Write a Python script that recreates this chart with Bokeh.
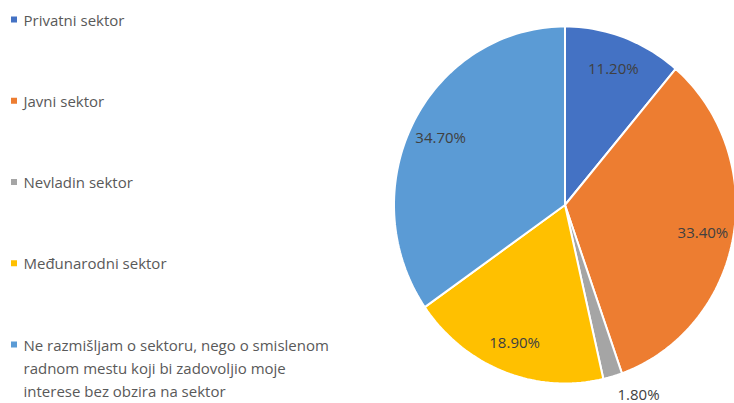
import math
import textwrap
from bokeh.plotting import figure
from bokeh.models import Range1d, ColumnDataSource
from bokeh.core.properties import value
from bokeh.embed import file_html
from bokeh.resources import INLINE

# ---- data ----
categories = [
    "Privatni sektor",
    "Javni sektor",
    "Nevladin sektor",
    "Međunarodni sektor",
    "Ne razmišljam o sektoru, nego o smislenom radnom mestu koji bi zadovoljio moje interese bez obzira na sektor",
]
shares = [11.2, 33.4, 1.8, 18.9, 34.7]
colors = ["#4472C4", "#ED7D31", "#A5A5A5", "#FFC000", "#5B9BD5"]

# ---- layout ----
W, H = 734, 403
FONT = "Open Sans"
FS = "15px"

p = figure(width=W, height=H, output_backend="svg", toolbar_location=None,
           x_range=Range1d(0, W), y_range=Range1d(H, 0),
           x_axis_type=None, y_axis_type=None, min_border=0,
           outline_line_color=None, background_fill_color="white",
           border_fill_color="white")

# pie geometry (screen-like data coords, y downward)
cx, cy = 564.5, 204.5
rx, ry = 171.0, 178.5

total = sum(shares)
xs, ys = [], []
lab_x, lab_y, lab_t, lab_align = [], [], [], []
acc = 0.0
for s in shares:
    a0 = acc / total * 2 * math.pi
    acc += s
    a1 = acc / total * 2 * math.pi
    n = max(4, int(240 * s / total))
    px = [cx]
    py = [cy]
    for k in range(n + 1):
        t = a0 + (a1 - a0) * k / n
        px.append(cx + rx * math.sin(t))
        py.append(cy - ry * math.cos(t))
    xs.append(px)
    ys.append(py)
    m = (a0 + a1) / 2
    txt = f"{s:.2f}%"
    if s / total < 0.05:
        f = 1.1
        lab_align.append("left" if math.sin(m) > 0 else "right")
    else:
        f = 0.82
        lab_align.append("center")
    lab_x.append(cx + f * rx * math.sin(m))
    lab_y.append(cy - f * ry * math.cos(m))
    lab_t.append(txt)

p.patches(xs=xs, ys=ys, fill_color=colors, line_color="white", line_width=2)

lsrc = ColumnDataSource(dict(x=lab_x, y=lab_y, t=lab_t, a=lab_align))
p.text(x="x", y="y", text="t", source=lsrc, text_align="a", text_baseline="middle",
       text_font=value(FONT), text_font_size=FS, text_color="#404040")

# ---- legend (manual) ----
leg_x0 = 13.5
leg_tx = 23.0
leg_y0 = 19.0
leg_step = 81.25
line_step = 23.0

mk_x, mk_y = [], []
tx, ty, tt = [], [], []
for i, c in enumerate(categories):
    yy = leg_y0 + i * leg_step
    mk_x.append(leg_x0)
    mk_y.append(yy)
    for j, line in enumerate(textwrap.wrap(c, width=42)):
        tx.append(leg_tx)
        ty.append(yy + j * line_step)
        tt.append(line)

p.rect(x=mk_x, y=mk_y, width=6, height=6, fill_color=colors, line_color=None)
p.text(x=tx, y=ty, text=tt, text_align="left", text_baseline="middle",
       text_font=value(FONT), text_font_size=FS, text_color="#595959")

open("out.html", "w").write(file_html(p, INLINE))
